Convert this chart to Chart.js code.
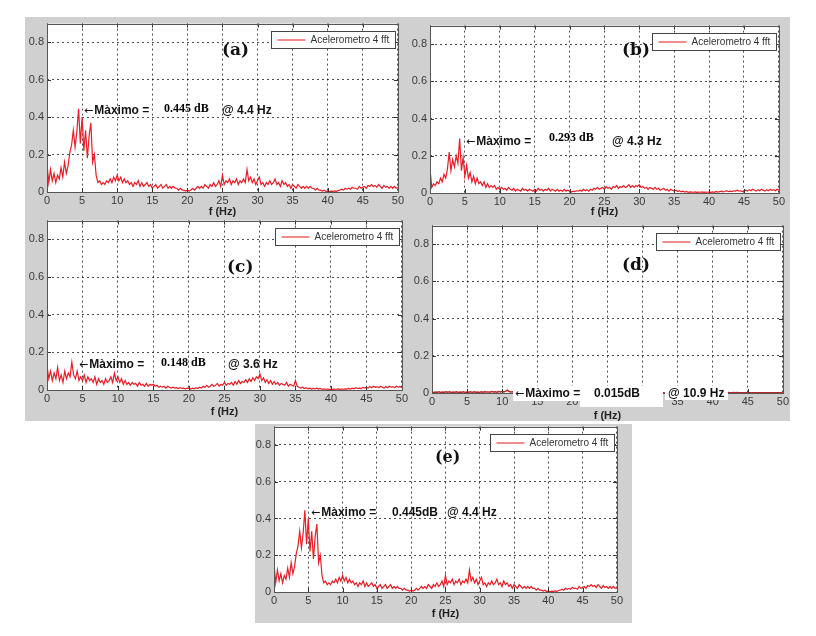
<!DOCTYPE html>
<html>
<head>
<meta charset="utf-8">
<script src="https://cdn.jsdelivr.net/npm/chart.js@4.4.1/dist/chart.umd.min.js"></script>
<style>
  body { margin:0; background:#fff; width:816px; height:636px; position:relative; overflow:hidden; font-family:"Liberation Sans", Arial, sans-serif; }
  .bg { position:absolute; background:#d0d0d0; }
  canvas { position:absolute; }
  .note { position:absolute; white-space:nowrap; line-height:1; font-weight:bold; color:#111; }
  .tag { font-family:"DejaVu Serif", serif; font-size:17px; }
  .sans { font-size:12px; }
  .serif { font-family:"Liberation Serif", serif; font-size:12px; color:#000; }
  .arr { font-family:"DejaVu Sans", sans-serif; font-weight:normal; font-size:11px; margin-right:1px; }
  .wbox { position:absolute; background:#fff; }
</style>
</head>
<body>
<div class="bg" style="left:25px;top:17px;width:765px;height:404px"></div>
<div class="bg" style="left:255px;top:424px;width:377px;height:199px"></div>

<canvas id="chartA"></canvas>
<canvas id="chartB"></canvas>
<canvas id="chartC"></canvas>
<canvas id="chartD"></canvas>
<canvas id="chartE"></canvas>

<!-- (a) -->
<div class="note tag" style="left:222px;top:41px">(a)</div>
<div class="note sans" style="left:84px;top:104px"><span class="arr">&larr;</span>Màximo =</div>
<div class="note serif" style="left:164px;top:102px">0.445 dB</div>
<div class="note sans" style="left:222px;top:104px">@ 4.4 Hz</div>
<!-- (b) -->
<div class="note tag" style="left:622px;top:41px">(b)</div>
<div class="note sans" style="left:466px;top:135px"><span class="arr">&larr;</span>Màximo =</div>
<div class="note serif" style="left:549px;top:131px">0.293 dB</div>
<div class="note sans" style="left:612px;top:135px">@ 4.3 Hz</div>
<!-- (c) -->
<div class="note tag" style="left:227px;top:258px">(c)</div>
<div class="note sans" style="left:79px;top:358px"><span class="arr">&larr;</span>Màximo =</div>
<div class="note serif" style="left:161px;top:356px">0.148 dB</div>
<div class="note sans" style="left:228px;top:358px">@ 3.6 Hz</div>
<!-- (d) -->
<div class="note tag" style="left:622px;top:256px">(d)</div>
<div class="wbox" style="left:513px;top:386px;width:67px;height:15px"></div>
<div class="wbox" style="left:580px;top:386px;width:83px;height:21px"></div>
<div class="wbox" style="left:665px;top:386px;width:63px;height:14px"></div>
<div class="note sans" style="left:515px;top:387px"><span class="arr">&larr;</span>Màximo =</div>
<div class="note sans" style="left:594px;top:387px">0.015dB</div>
<div class="note sans" style="left:668px;top:387px">@ 10.9 Hz</div>
<!-- (e) -->
<div class="note tag" style="left:435px;top:449px;font-size:16px">(e)</div>
<div class="note sans" style="left:311px;top:506px"><span class="arr">&larr;</span>Màximo =</div>
<div class="note sans" style="left:392px;top:506px">0.445dB</div>
<div class="note sans" style="left:447px;top:506px">@ 4.4 Hz</div>

<script>
// FFT bin spacing (Hz); amplitude arrays start at 0 Hz, one row = 5 Hz
const DF = 0.25;
const seriesLabel = 'Acelerometro 4 fft';
const xTitle = 'f (Hz)';

// (a) and (e): same record
const ampA = [
  0.15,0.05,0.12,0.06,0.10,0.05,0.09,0.07,0.13,0.08,0.16,0.10,0.14,0.21,0.25,0.33,0.24,0.32,0.445,0.26,
  0.40,0.22,0.33,0.18,0.30,0.37,0.16,0.20,0.09,0.05,0.06,0.04,0.05,0.04,0.06,0.05,0.07,0.05,0.08,0.06,
  0.09,0.06,0.08,0.05,0.07,0.05,0.06,0.04,0.05,0.03,0.05,0.04,0.06,0.03,0.05,0.03,0.04,0.05,0.03,0.04,
  0.02,0.03,0.04,0.02,0.03,0.04,0.02,0.03,0.04,0.02,0.03,0.02,0.03,0.02,0.02,0.01,0.02,0.01,0.01,0.005,
  0.01,0.005,0.01,0.02,0.01,0.02,0.03,0.02,0.03,0.02,0.04,0.03,0.02,0.04,0.03,0.05,0.03,0.04,0.06,0.03,
  0.09,0.04,0.06,0.05,0.07,0.04,0.06,0.05,0.07,0.04,0.06,0.05,0.07,0.05,0.12,0.06,0.08,0.05,0.07,0.04,
  0.06,0.08,0.04,0.05,0.03,0.05,0.04,0.06,0.04,0.05,0.07,0.04,0.05,0.03,0.06,0.04,0.05,0.03,0.04,0.02,
  0.04,0.03,0.02,0.04,0.03,0.02,0.03,0.02,0.03,0.02,0.03,0.02,0.02,0.01,0.02,0.01,0.01,0.005,0.01,0.003,
  0.005,0.002,0.005,0.003,0.006,0.004,0.008,0.01,0.015,0.01,0.02,0.015,0.02,0.015,0.025,0.02,0.02,0.015,0.03,0.02,
  0.025,0.03,0.02,0.035,0.03,0.04,0.03,0.035,0.025,0.04,0.03,0.02,0.035,0.025,0.03,0.02,0.03,0.02,0.03,0.02,
  0.025
];

const ampB = [
  0.13,0.03,0.05,0.04,0.06,0.05,0.08,0.06,0.10,0.08,0.13,0.22,0.12,0.18,0.14,0.20,0.16,0.293,0.12,0.19,
  0.09,0.15,0.08,0.11,0.06,0.09,0.05,0.08,0.05,0.06,0.04,0.06,0.03,0.05,0.03,0.04,0.03,0.04,0.02,0.03,
  0.02,0.03,0.02,0.025,0.015,0.03,0.02,0.015,0.025,0.01,0.02,0.015,0.01,0.025,0.015,0.02,0.01,0.02,0.015,0.01,
  0.02,0.01,0.025,0.015,0.02,0.01,0.02,0.015,0.025,0.01,0.02,0.015,0.01,0.02,0.01,0.015,0.01,0.02,0.01,0.015,
  0.01,0.005,0.01,0.008,0.012,0.01,0.015,0.01,0.02,0.012,0.018,0.01,0.02,0.015,0.025,0.02,0.03,0.02,0.025,0.03,
  0.02,0.035,0.025,0.03,0.02,0.035,0.03,0.04,0.025,0.035,0.03,0.04,0.03,0.035,0.045,0.03,0.04,0.03,0.04,0.035,
  0.045,0.03,0.035,0.025,0.03,0.02,0.03,0.025,0.02,0.03,0.02,0.025,0.015,0.02,0.025,0.015,0.02,0.01,0.02,0.015,
  0.01,0.015,0.008,0.012,0.006,0.01,0.005,0.008,0.004,0.006,0.005,0.004,0.006,0.003,0.005,0.004,0.006,0.003,0.005,0.004,
  0.005,0.003,0.006,0.004,0.008,0.005,0.007,0.01,0.006,0.008,0.012,0.007,0.01,0.008,0.012,0.01,0.015,0.01,0.012,0.008,
  0.012,0.015,0.01,0.018,0.012,0.02,0.015,0.01,0.018,0.012,0.02,0.015,0.01,0.018,0.012,0.02,0.014,0.018,0.012,0.02,
  0.015
];

const ampC = [
  0.13,0.06,0.10,0.05,0.09,0.06,0.12,0.05,0.08,0.04,0.10,0.06,0.09,0.07,0.148,0.08,0.06,0.10,0.05,0.07,
  0.05,0.08,0.04,0.07,0.05,0.06,0.04,0.07,0.03,0.06,0.04,0.05,0.03,0.06,0.04,0.05,0.07,0.04,0.09,0.05,
  0.07,0.04,0.06,0.03,0.05,0.03,0.04,0.025,0.04,0.03,0.035,0.02,0.04,0.025,0.03,0.02,0.035,0.02,0.03,0.025,
  0.03,0.02,0.025,0.015,0.02,0.015,0.02,0.01,0.02,0.015,0.01,0.015,0.01,0.012,0.008,0.012,0.008,0.01,0.006,0.01,
  0.008,0.005,0.01,0.006,0.012,0.008,0.015,0.01,0.02,0.015,0.025,0.015,0.02,0.03,0.02,0.025,0.035,0.02,0.03,0.025,
  0.04,0.025,0.035,0.03,0.04,0.025,0.045,0.03,0.05,0.035,0.045,0.04,0.055,0.04,0.06,0.045,0.065,0.05,0.07,0.06,
  0.085,0.05,0.065,0.04,0.055,0.035,0.05,0.03,0.045,0.03,0.04,0.025,0.035,0.03,0.025,0.04,0.02,0.03,0.025,0.02,
  0.05,0.02,0.015,0.01,0.015,0.008,0.012,0.006,0.01,0.005,0.008,0.006,0.01,0.005,0.008,0.004,0.006,0.004,0.005,0.003,
  0.004,0.003,0.005,0.004,0.006,0.003,0.005,0.004,0.006,0.005,0.008,0.005,0.01,0.006,0.012,0.008,0.01,0.008,0.014,0.01,
  0.015,0.01,0.018,0.012,0.02,0.014,0.018,0.012,0.02,0.015,0.01,0.018,0.012,0.02,0.015,0.018,0.012,0.02,0.015,0.018,
  0.012
];

const ampD = [
  0.006,0.003,0.005,0.004,0.006,0.003,0.005,0.004,0.007,0.004,0.006,0.003,0.005,0.004,0.006,0.003,0.005,0.004,0.006,0.003,
  0.005,0.004,0.007,0.003,0.006,0.004,0.005,0.003,0.006,0.004,0.007,0.005,0.006,0.004,0.008,0.005,0.007,0.004,0.008,0.005,
  0.009,0.006,0.01,0.015,0.008,0.006,0.007,0.004,0.006,0.003,0.005,0.004,0.003,0.004,0.002,0.003,0.002,0.003,0.002,0.003,
  0.002,0.003,0.002,0.003,0.002,0.002,0.003,0.002,0.002,0.003,0.002,0.002,0.001,0.002,0.002,0.001,0.002,0.001,0.001,0.002,
  0.001,0.002,0.001,0.002,0.002,0.001,0.002,0.002,0.003,0.002,0.002,0.003,0.002,0.003,0.002,0.003,0.003,0.002,0.003,0.002,
  0.003,0.002,0.003,0.003,0.004,0.003,0.003,0.004,0.003,0.004,0.003,0.004,0.003,0.004,0.005,0.003,0.004,0.003,0.004,0.003,
  0.004,0.003,0.004,0.003,0.003,0.002,0.003,0.003,0.002,0.003,0.002,0.003,0.002,0.002,0.003,0.002,0.002,0.002,0.003,0.002,
  0.002,0.002,0.001,0.002,0.001,0.001,0.002,0.001,0.001,0.001,0.001,0.001,0.001,0.001,0.001,0.001,0.001,0.001,0.001,0.001,
  0.001,0.001,0.001,0.001,0.001,0.001,0.001,0.001,0.001,0.002,0.001,0.001,0.002,0.001,0.002,0.001,0.002,0.002,0.001,0.002,
  0.002,0.002,0.001,0.002,0.002,0.002,0.002,0.001,0.002,0.002,0.002,0.002,0.002,0.001,0.002,0.002,0.002,0.002,0.002,0.002,
  0.002
];

// plot boxes on the page (left, top, right, bottom of the axes) and x-label offset
const panels = [
  { id: 'chartA', amp: ampA, L: 47,  T: 22,  R: 398, B: 192, tOff: 20, color: '#ea1c24', width: 1.2 },
  { id: 'chartB', amp: ampB, L: 430, T: 24,  R: 779, B: 193, tOff: 19, color: '#ea1c24', width: 1.2 },
  { id: 'chartC', amp: ampC, L: 47,  T: 219, R: 402, B: 390, tOff: 22, color: '#ea1c24', width: 1.2 },
  { id: 'chartD', amp: ampD, L: 432, T: 224, R: 783, B: 393, tOff: 23, color: '#b82828', width: 1.5 },
  { id: 'chartE', amp: ampA, L: 274, T: 425, R: 617, B: 592, tOff: 22, color: '#ea1c24', width: 1.2 }
];

const Y_AXIS_W = 30, X_AXIS_H = 32, PAD_T = 8, PAD_R = 8;

// matlab style white axes, box, inward ticks and legend
const axesFrame = {
  id: 'axesFrame',
  beforeDraw(chart) {
    const { ctx, chartArea: a } = chart;
    ctx.save();
    ctx.fillStyle = '#fff';
    ctx.fillRect(a.left, a.top, a.width, a.height);
    ctx.restore();
  },
  afterDraw(chart) {
    const { ctx, chartArea: a, scales: { x, y } } = chart;
    ctx.save();
    ctx.strokeStyle = '#333';
    ctx.lineWidth = 1;
    ctx.beginPath();
    x.ticks.forEach(t => {
      const px = Math.round(x.getPixelForValue(t.value)) + 0.5;
      ctx.moveTo(px, a.bottom); ctx.lineTo(px, a.bottom - 4);
      ctx.moveTo(px, a.top); ctx.lineTo(px, a.top + 4);
    });
    y.ticks.forEach(t => {
      const py = Math.round(y.getPixelForValue(t.value)) + 0.5;
      ctx.moveTo(a.left, py); ctx.lineTo(a.left + 4, py);
      ctx.moveTo(a.right, py); ctx.lineTo(a.right - 4, py);
    });
    ctx.stroke();
    ctx.strokeStyle = '#555';
    ctx.strokeRect(Math.round(a.left) + 0.5, Math.round(a.top) + 0.5, Math.round(a.width), Math.round(a.height));

    // legend
    const bw = 124, bh = 17;
    const bx = Math.round(a.right - 3 - bw) + 0.5, by = Math.round(a.top + 7) + 0.5;
    ctx.fillStyle = '#fff';
    ctx.fillRect(bx, by, bw, bh);
    ctx.strokeStyle = '#444';
    ctx.strokeRect(bx, by, bw, bh);
    ctx.strokeStyle = 'rgba(232,50,50,0.75)';
    ctx.lineWidth = 1.5;
    ctx.beginPath();
    ctx.moveTo(bx + 6, by + bh / 2); ctx.lineTo(bx + 34, by + bh / 2);
    ctx.stroke();
    ctx.fillStyle = '#333';
    ctx.font = '10px "Liberation Sans", Arial, sans-serif';
    ctx.textBaseline = 'middle';
    ctx.fillText(chart.data.datasets[0].label, bx + 39, by + bh / 2 + 0.5);
    ctx.restore();
  }
};

panels.forEach(p => {
  const cv = document.getElementById(p.id);
  const w = p.R - p.L + Y_AXIS_W + PAD_R;
  const h = p.B - p.T + PAD_T + X_AXIS_H;
  cv.width = w; cv.height = h;
  cv.style.left = (p.L - Y_AXIS_W) + 'px';
  cv.style.top = (p.T - PAD_T) + 'px';
  cv.style.width = w + 'px'; cv.style.height = h + 'px';

  const points = p.amp.map((v, i) => ({ x: i * DF, y: v }));

  new Chart(cv.getContext('2d'), {
    type: 'line',
    data: {
      datasets: [{
        label: seriesLabel,
        data: points,
        borderColor: p.color,
        borderWidth: p.width,
        pointRadius: 0,
        tension: 0,
        fill: false
      }]
    },
    options: {
      responsive: false,
      animation: false,
      devicePixelRatio: 1,
      layout: { padding: { left: 0, top: PAD_T, right: PAD_R, bottom: 0 } },
      plugins: { legend: { display: false }, tooltip: { enabled: false } },
      scales: {
        x: {
          type: 'linear', min: 0, max: 50,
          ticks: { stepSize: 5, autoSkip: false, maxRotation: 0, padding: 2, color: '#3a3a3a',
                   font: { family: '"Liberation Sans", Arial, sans-serif', size: 11 } },
          grid: { color: 'rgba(0,0,0,0.7)', lineWidth: 1, drawTicks: false },
          border: { display: false, dash: [2, 3] },
          title: { display: true, text: xTitle, color: '#222',
                   font: { family: '"Liberation Sans", Arial, sans-serif', size: 11, weight: 'bold' },
                   padding: { top: 0, bottom: X_AXIS_H - 6.6 - p.tOff } },
          afterFit(s) { s.height = X_AXIS_H; }
        },
        y: {
          min: 0, max: 0.9,
          ticks: { stepSize: 0.2, includeBounds: false, padding: 3, color: '#3a3a3a',
                   font: { family: '"Liberation Sans", Arial, sans-serif', size: 11 } },
          grid: { color: 'rgba(0,0,0,0.7)', lineWidth: 1, drawTicks: false },
          border: { display: false, dash: [2, 3] },
          afterFit(s) { s.width = Y_AXIS_W; }
        }
      }
    },
    plugins: [axesFrame]
  });
});
</script>
</body>
</html>
